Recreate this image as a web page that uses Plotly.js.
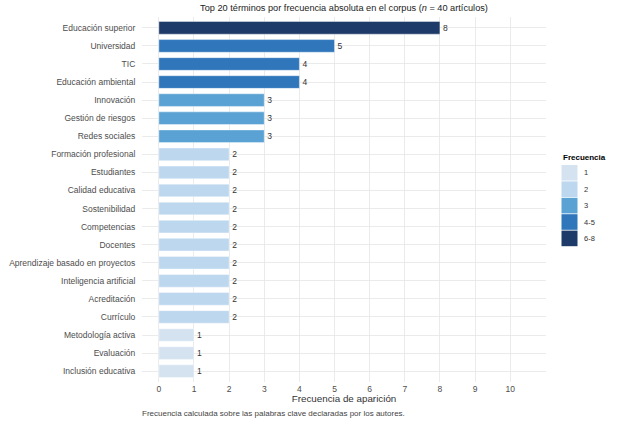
<!DOCTYPE html>
<html>
<head>
<meta charset="utf-8">
<script src="https://cdn.plot.ly/plotly-3.0.1.min.js"></script>
<style>html,body{margin:0;padding:0;background:#fff;}#chart{width:626px;height:428px;}</style>
</head>
<body>
<div id="chart"></div>
<script>
const terms = ["Educación superior","Universidad","TIC","Educación ambiental","Innovación","Gestión de riesgos","Redes sociales","Formación profesional","Estudiantes","Calidad educativa","Sostenibilidad","Competencias","Docentes","Aprendizaje basado en proyectos","Inteligencia artificial","Acreditación","Currículo","Metodología activa","Evaluación","Inclusión educativa"];
const counts = [8,5,4,4,3,3,3,2,2,2,2,2,2,2,2,2,2,1,1,1];
const classes = ["1","2","3","4-5","6-8"];
const classColors = ["#d5e3f1","#bdd7ee","#5aa2d3","#2f76bb","#1e3a68"];
const xTicks = [0,1,2,3,4,5,6,7,8,9,10];

function classOf(v){ if(v<=1) return "1"; if(v===2) return "2"; if(v===3) return "3"; if(v<=5) return "4-5"; return "6-8"; }

const FONT = "Liberation Sans, Arial, sans-serif";
const traces = classes.map((c,i)=>{
  const idx = counts.map((v,j)=>classOf(v)===c?j:-1).filter(j=>j>=0);
  return {
    type:"bar", orientation:"h", name:c,
    y: idx.map(j=>terms[j]), x: idx.map(j=>counts[j]),
    text: idx.map(j=>String(counts[j])), textposition:"outside", cliponaxis:false,
    textfont:{family:FONT, size:8.5, color:"#333333"},
    marker:{color:classColors[i], line:{color:"#ffffff", width:0.4}},
    width:0.7, showlegend:false, hoverinfo:"x+y"
  };
});

const shapes = [];
const annotations = [];
const L = 142, R = 546, T = 17, B = 382;
const pw = R-L, ph = B-T;
function px(x){ return (x-L)/pw; }
function py(y){ return (B-y)/ph; }
annotations.push({xref:"paper", yref:"paper", x:px(561), y:py(157), xanchor:"left", yanchor:"middle", showarrow:false,
  text:"<b>Frecuencia</b>", font:{family:FONT, size:8, color:"#000"}});
classes.forEach((c,i)=>{
  const y0 = 165 + i*16.4, y1 = y0+15.6;
  shapes.push({type:"rect", xref:"paper", yref:"paper", x0:px(561.5), x1:px(577.5), y0:py(y1), y1:py(y0),
    fillcolor:classColors[i], line:{width:0}});
  annotations.push({xref:"paper", yref:"paper", x:px(582), y:py((y0+y1)/2), xanchor:"left", yanchor:"middle", showarrow:false,
    text:c, font:{family:FONT, size:7.5, color:"#333"}});
});
annotations.push({xref:"paper", yref:"paper", x:px(140), y:py(413), xanchor:"left", yanchor:"middle", showarrow:false,
  text:"Frecuencia calculada sobre las palabras clave declaradas por los autores.", font:{family:FONT, size:8, color:"#444"}});

const layout = {
  width:626, height:428,
  margin:{l:L, r:626-R, t:T, b:428-B, pad:0},
  paper_bgcolor:"#fff", plot_bgcolor:"#fff",
  font:{family:FONT, color:"#4d4d4d"},
  title:{text:"Top 20 términos por frecuencia absoluta en el corpus (<i>n</i> = 40 artículos)", x:0.5, xref:"paper", xanchor:"center", y:1-7.5/428, yanchor:"middle",
    font:{size:9.2, color:"#222"}},
  barmode:"overlay", bargap:0.3,
  xaxis:{range:[-0.48,11.02], tickvals:xTicks, ticktext:xTicks.map(String), showgrid:true, gridcolor:"#e6e6e6", gridwidth:0.8,
    zeroline:false, showline:false, ticks:"", tickfont:{size:8.5, color:"#4d4d4d"},
    title:{text:"Frecuencia de aparición", font:{size:9.8, color:"#333"}, standoff:0}},
  yaxis:{categoryorder:"array", categoryarray:terms.slice().reverse(), range:[-0.6,19.6], showgrid:true, gridcolor:"#e6e6e6", gridwidth:0.8,
    zeroline:false, showline:false, ticks:"outside", ticklen:4, tickcolor:"rgba(0,0,0,0)", tickfont:{size:8.5, color:"#4d4d4d"}, automargin:false},
  shapes:shapes, annotations:annotations
};

Plotly.newPlot("chart", traces, layout, {displayModeBar:false, staticPlot:true});
</script>
</body>
</html>
